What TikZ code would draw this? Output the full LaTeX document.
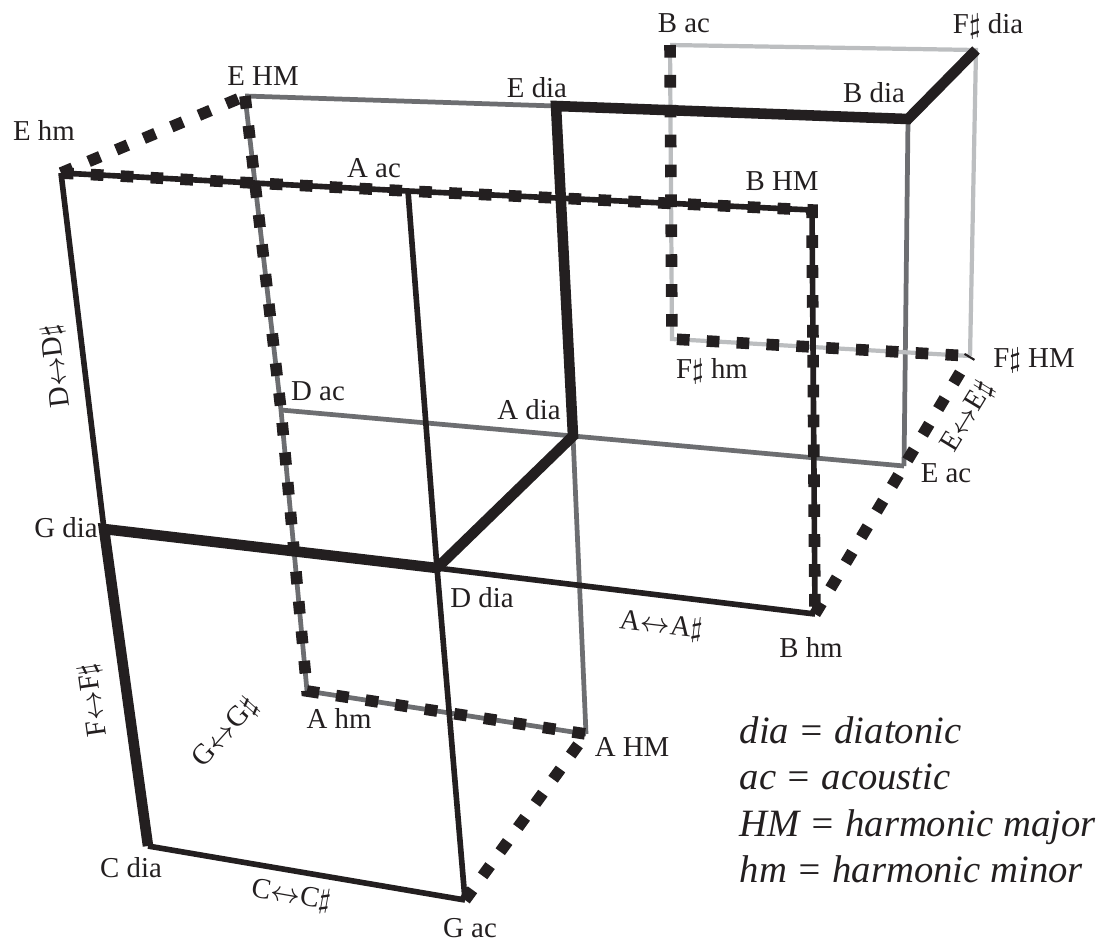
\documentclass[tikz,border=0pt]{standalone}
\usepackage{fontspec}
\setmainfont{Liberation Serif}
\usepackage{tikz}
\definecolor{ink}{RGB}{35,31,32}
\definecolor{midgray}{RGB}{109,110,113}
\definecolor{palegray}{RGB}{188,190,192}

\begin{document}
\begin{tikzpicture}[x=0.01cm, y=-0.01cm,
    dialine/.style={draw=ink, line width=3pt},
    blackline/.style={draw=ink, line width=1.6pt},
    grayline/.style={draw=midgray, line width=1.35pt},
    paleline/.style={draw=palegray, line width=1.2pt},
    dashline/.style={draw=ink, line width=3.3pt, dash pattern=on 3.6pt off 4.9pt},
    lbl/.style={font=\fontsize{8.2}{10}\selectfont, text=ink, inner sep=0pt},
    keytext/.style={font=\fontsize{11}{13.2}\selectfont\itshape, text=ink, align=left, inner sep=0pt}]
          \useasboundingbox (0,0) rectangle (1119,948);
          % scales on the grid
          \coordinate (Ehm) at (61,173);
          \coordinate (EHM) at (245,96);
          \coordinate (Aac) at (408,191);
          \coordinate (Edia) at (556,106);
          \coordinate (Bac) at (670,45);
          \coordinate (Fsdia) at (976,50);
          \coordinate (Bdia) at (908,119);
          \coordinate (BHM) at (812,210);
          \coordinate (Fshm) at (672,339);
          \coordinate (FsHM) at (970,356);
          \coordinate (Dac) at (281,410);
          \coordinate (Adia) at (573,436);
          \coordinate (Eac) at (904,466);
          \coordinate (Gdia) at (104,529);
          \coordinate (Ddia) at (437,568);
          \coordinate (Bhm) at (815,614);
          \coordinate (Ahm) at (307,691);
          \coordinate (AHM) at (586,734);
          \coordinate (Cdia) at (148,846);
          \coordinate (Gac) at (465,900);
          % scale names
          \node [lbl] (Ehm-l) at (44,130) {E hm};
          \node [lbl] (EHM-l) at (263,76) {E HM};
          \node [lbl] (Aac-l) at (374,168) {A ac};
          \node [lbl] (Edia-l) at (537,88) {E dia};
          \node [lbl] (Bac-l) at (684,23) {B ac};
          \node [lbl] (Fsdia-l) at (988,26) {F$\sharp$ dia};
          \node [lbl] (Bdia-l) at (874,93) {B dia};
          \node [lbl] (BHM-l) at (782,181) {B HM};
          \node [lbl] (Fshm-l) at (712,371) {F$\sharp$ hm};
          \node [lbl] (FsHM-l) at (1034,360) {F$\sharp$ HM};
          \node [lbl] (Dac-l) at (318,391) {D ac};
          \node [lbl] (Adia-l) at (529,410) {A dia};
          \node [lbl] (Eac-l) at (946,473) {E ac};
          \node [lbl] (Gdia-l) at (66,528) {G dia};
          \node [lbl] (Ddia-l) at (482,598) {D dia};
          \node [lbl] (Bhm-l) at (811,648) {B hm};
          \node [lbl] (Ahm-l) at (339,718) {A hm};
          \node [lbl] (AHM-l) at (632,747) {A HM};
          \node [lbl] (Cdia-l) at (131,868) {C dia};
          \node [lbl] (Gac-l) at (470,928) {G ac};
          % moves
          \node [lbl, rotate=97] (DDs) at (57,366) {D$\leftrightarrow$D$\sharp$};
          \node [lbl, rotate=98] (FFs) at (94,700) {F$\leftrightarrow$F$\sharp$};
          \node [lbl, rotate=48] (GGs) at (226,733) {G$\leftrightarrow$G$\sharp$};
          \node [lbl, rotate=-10] (CCs) at (291,896) {C$\leftrightarrow$C$\sharp$};
          \node [lbl, rotate=-6.6] (AAs) at (661,626) {A$\leftrightarrow$A$\sharp$};
          \node [lbl, rotate=58.6] (EEs) at (968,417) {E$\leftrightarrow$E$\sharp$};
          % grey edges
          \draw [grayline] (EHM) -- (Edia);
          \draw [grayline] (Dac) -- (Adia) -- (Eac);
          \draw [grayline] (Adia) -- (AHM);
          \draw [grayline] (Bdia) -- (Eac);
          \draw [grayline] (EHM) -- (Dac) -- (Ahm) -- (AHM);
          \draw [paleline] (Bac) -- (Fsdia) -- (FsHM);
          \draw [paleline] (Bac) -- (Fshm) -- (FsHM);
          % black edges
          \draw [blackline] (Ehm) -- (Gdia);
          \draw [blackline] (Gac) -- (Ddia) -- (Aac);
          \draw [blackline] (Ddia) -- (Bhm);
          \draw [blackline] (Cdia) -- (Gac);
          \draw [blackline] (Ehm) -- (Aac) -- (BHM) -- (Bhm);
          \draw [dialine] (Cdia) -- (Gdia) -- (Ddia) -- (Adia) -- (Edia) -- (Bdia) -- (Fsdia);
          % dashed edges
          \draw [dashline] (Ehm) -- (EHM);
          \draw [dashline] (Ehm) -- (Aac) -- (BHM) -- (Bhm);
          \draw [dashline] (EHM) -- (Dac) -- (Ahm) -- (AHM);
          \draw [dashline] (Gac) -- (AHM);
          \draw [dashline] (Bhm) -- (Eac) -- (FsHM);
          \draw [dashline] (Bac) -- (Fshm) -- (FsHM);
          % key
          \node [keytext, anchor=north west] (key) at (739,716) {dia = diatonic\\ac = acoustic\\HM = harmonic major\\hm = harmonic minor};
        \end{tikzpicture}
\end{document}
